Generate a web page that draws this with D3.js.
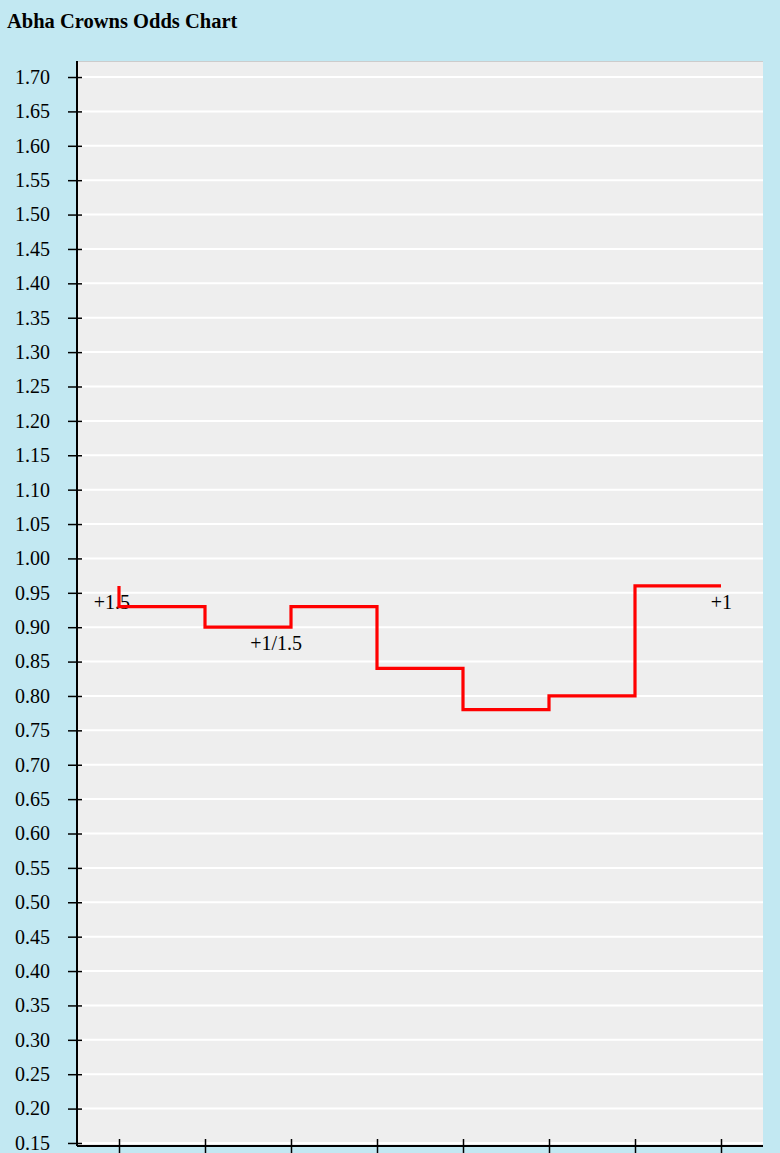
<!DOCTYPE html>
<html lang="en">
<head>
<meta charset="utf-8">
<script src="https://d3js.org/d3.v7.min.js"></script>
<style>
    body { margin: 0; background: #c2e8f2; }
    svg text { font-family: "Liberation Serif", "Times New Roman", serif; }
</style>
</head>
<body>
<script>
    // x categories (tick labels fall below the visible area)
    var categories = [0, 1, 2, 3, 4, 5, 6, 7];

    // odds series: category index and odds of each step point
    var stepCats = [0, 0, 1, 2, 3, 4, 5, 6, 7];
    var stepOdds = [0.96, 0.93, 0.90, 0.93, 0.84, 0.78, 0.80, 0.96, 0.96];

    // handicap labels
    var labelText = ["+1.5", "+1/1.5", "+1"];
    var labelCats = [0, 2, 7];
    var labelOdds = [0.96, 0.90, 0.96];

    // y ticks 0.15 .. 1.70
    var yTicks = d3.range(3, 35).map(function(d) { return d * 0.05; });

    var width = 780, height = 1153;
    var plotLeft = 77, plotRight = 763, plotTop = 61, plotBottom = 1146;

    var svg = d3.select("body")
        .append("svg")
        .attr("width", width)
        .attr("height", height);

    svg.append("rect")
        .attr("width", width)
        .attr("height", height)
        .attr("fill", "#c2e8f2");

    svg.append("text")
        .attr("x", 7)
        .attr("y", 28)
        .style("font-size", "20.5px")
        .style("font-weight", "bold")
        .text("Abha Crowns Odds Chart");

    var x = d3.scalePoint()
        .domain(categories)
        .range([76, 764])
        .padding(0.5);

    var y = d3.scaleLinear()
        .domain([0.1456, 1.7233])
        .range([plotBottom, plotTop]);

    // plot area
    svg.append("rect")
        .attr("x", plotLeft)
        .attr("y", plotTop)
        .attr("width", plotRight - plotLeft)
        .attr("height", plotBottom - plotTop)
        .attr("fill", "#eeeeee");

    svg.append("line")
        .attr("x1", plotLeft).attr("x2", plotRight)
        .attr("y1", plotTop + 0.5).attr("y2", plotTop + 0.5)
        .attr("stroke", "#cccccc");

    // grid lines
    svg.append("g")
        .selectAll("line")
        .data(yTicks)
        .enter()
        .append("line")
        .attr("x1", plotLeft)
        .attr("x2", plotRight)
        .attr("y1", function(d) { return y(d); })
        .attr("y2", function(d) { return y(d); })
        .attr("stroke", "#ffffff")
        .attr("stroke-width", 2);

    // labels (under the line)
    svg.append("g")
        .selectAll("text")
        .data(labelText)
        .enter()
        .append("text")
        .attr("x", function(d, i) { return x(labelCats[i]) + 11; })
        .attr("y", function(d, i) { return y(labelOdds[i]) + 23; })
        .attr("text-anchor", "end")
        .style("font-size", "20px")
        .text(function(d) { return d; });

    var points = stepCats.map(function(c, i) { return [c, stepOdds[i]]; });

    svg.append("path")
        .datum(points)
        .attr("fill", "none")
        .attr("stroke", "#ff0000")
        .attr("stroke-width", 3.2)
        .attr("d", d3.line()
            .curve(d3.curveStepAfter)
            .x(function(d) { return x(d[0]); })
            .y(function(d) { return y(d[1]); })
        );

    // y axis
    var yAxis = svg.append("g")
        .attr("transform", "translate(" + plotLeft + ",0)")
        .call(d3.axisLeft(y)
            .tickValues(yTicks)
            .tickSize(9)
            .tickPadding(18)
            .tickFormat(d3.format(".2f")));
    yAxis.selectAll(".tick line").attr("x1", 5).attr("stroke-width", 1.5);
    yAxis.selectAll(".tick text").style("font-size", "20px").attr("fill", "#000");
    yAxis.select(".domain").attr("d", "M0," + plotTop + "V" + plotBottom).attr("stroke-width", 2);

    // x axis
    var xAxis = svg.append("g")
        .attr("transform", "translate(0," + plotBottom + ")")
        .call(d3.axisBottom(x)
            .tickSize(10)
            .tickFormat(function() { return ""; }));
    xAxis.selectAll(".tick line").attr("y1", -7).attr("stroke-width", 1.5);
    xAxis.select(".domain").attr("d", "M" + plotLeft + ",0H" + plotRight).attr("stroke-width", 2);
</script>
</body>
</html>
